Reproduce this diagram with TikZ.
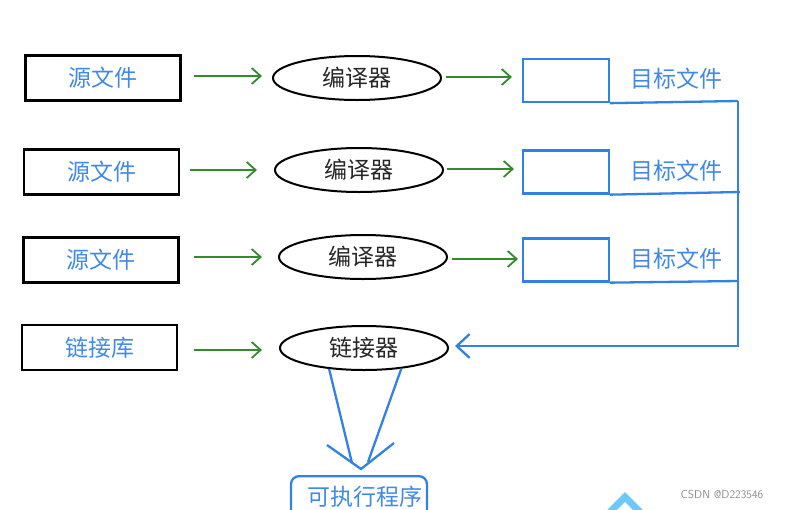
\documentclass[tikz,border=0pt]{standalone}
\usepackage{fontspec}
\newfontfamily\cjk{Noto Sans CJK SC}
\usetikzlibrary{arrows.meta,shapes.geometric}
\definecolor{tblue}{RGB}{64,138,230}
\definecolor{lblue}{RGB}{50,130,230}
\definecolor{agreen}{RGB}{50,140,45}
\definecolor{wmgray}{RGB}{140,140,140}
\definecolor{chev}{RGB}{110,200,250}
\begin{document}
\begin{tikzpicture}[x=1pt,y=-1pt,
  cjkfont/.style={font=\cjk\fontsize{23}{26}\selectfont},
  srcbox/.style={draw=black,line width=2.3pt,minimum width=155pt,minimum height=45pt,inner sep=0pt,text=tblue,cjkfont},
  comp/.style={draw=black,ellipse,line width=2pt,minimum width=168pt,minimum height=44pt,inner sep=0pt,text={black!85},cjkfont},
  tgtbox/.style={draw=lblue,line width=2.3pt,minimum width=86pt,minimum height=43pt,inner sep=0pt},
  tgtlabel/.style={text=tblue,cjkfont,inner sep=0pt},
  garrow/.style={draw=agreen,line width=1.8pt,-{Straight Barb[length=9pt,width=16pt,line width=1.8pt]}},
  bline/.style={draw=lblue,line width=2.3pt},
  barrow/.style={draw=lblue,line width=2.3pt,-{Straight Barb[length=13pt,width=24pt,line width=2.3pt]}}
]
\clip (0,0) rectangle (805,509);
\useasboundingbox (0,0) rectangle (805,509);

% sources
\node[srcbox] (s1) at (103,78) {源文件};
\node[srcbox] (s2) at (101.5,172) {源文件};
\node[srcbox] (s3) at (101,260) {源文件};
\node[srcbox] (s4) at (99.5,347.5) {链接库};

% compilers
\node[comp] (c1) at (357,78) {编译器};
\node[comp] (c2) at (359,170) {编译器};
\node[comp] (c3) at (363,257) {编译器};
\node[comp] (lk) at (364,348) {链接器};

% targets
\node[tgtbox] (t1) at (566,80.5) {};
\node[tgtbox] (t2) at (566,172) {};
\node[tgtbox] (t3) at (566,260) {};
\node[tgtlabel] (l1) at (676,79) {目标文件};
\node[tgtlabel] (l2) at (676,171) {目标文件};
\node[tgtlabel] (l3) at (676,259) {目标文件};

% executable
\node[draw=lblue,line width=2.3pt,rounded corners=8pt,minimum width=136pt,minimum height=50pt,inner sep=0pt,anchor=north] (exe) at (359,475) {};
\node[text=tblue,cjkfont,inner sep=0pt] (exetext) at (365,497) {可执行程序};

% green arrows
\draw[garrow] (194,76) coordinate (a1s) -- (262,76) coordinate (a1e);
\draw[garrow] (446,77) coordinate (b1s) -- (512,77) coordinate (b1e);
\draw[garrow] (190,170) coordinate (a2s) -- (257,170) coordinate (a2e);
\draw[garrow] (447,169) coordinate (b2s) -- (514,169) coordinate (b2e);
\draw[garrow] (194,257) coordinate (a3s) -- (262,257) coordinate (a3e);
\draw[garrow] (452,259) coordinate (b3s) -- (518,259) coordinate (b3e);
\draw[garrow] (194,350) coordinate (a4s) -- (262,350) coordinate (a4e);

% bus
\coordinate (bus1) at (738,101);
\coordinate (bus2) at (740,192);
\coordinate (bus3) at (738,281);
\coordinate (busE) at (738,346);
\coordinate (lkin) at (455,346);
\draw[bline] (t1.south east) -- (bus1);
\draw[bline] (t2.south east) -- (bus2);
\draw[bline] (t3.south east) -- (bus3);
\draw[barrow,line join=miter] (bus1) -- (busE) -- (lkin);

% linker to executable: two lines landing on one big arrowhead
\coordinate (e1) at (352,463);
\coordinate (e2) at (368,462);
\coordinate (wl) at (327,445);
\coordinate (tip) at (361,469);
\coordinate (wr) at (394,443);
\draw[bline] (lk.211) -- (e1);
\draw[bline] (lk.331) -- (e2);
\draw[bline,line join=miter] (wl) -- (tip) -- (wr);

% decorations at bottom right
\draw[chev,line width=7pt,line join=miter] (610,512) -- (625,497) -- (640,512);
\node[text=wmgray,font=\sffamily\fontsize{11.5}{13}\selectfont,inner sep=0pt] (wm) at (722,494) {CSDN @D223546};
\end{tikzpicture}
\end{document}
